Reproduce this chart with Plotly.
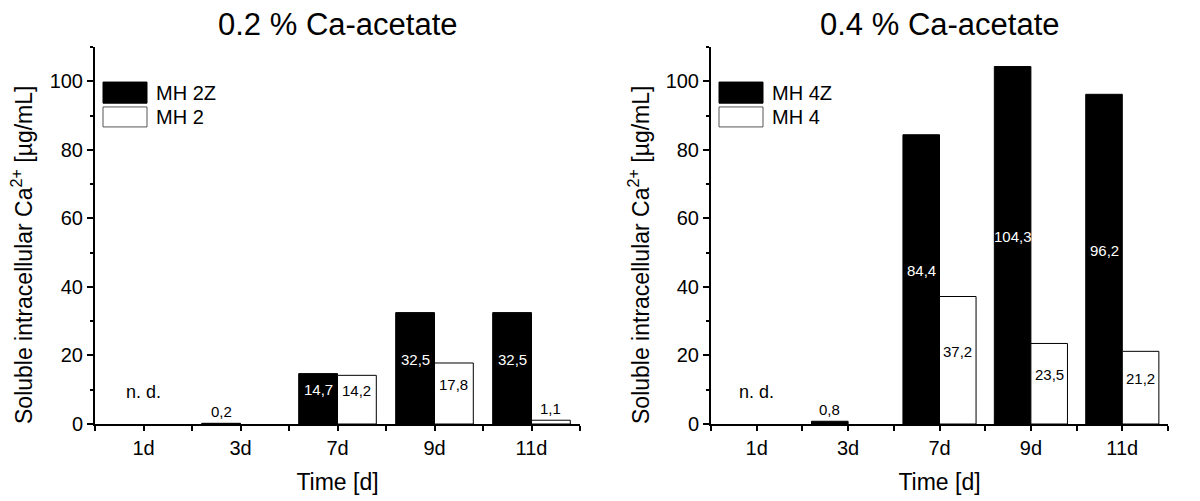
import plotly.graph_objects as go

# ---- data ----
days = ["1d", "3d", "7d", "9d", "11d"]

left_title = "0.2 % Ca-acetate"
left_names = ["MH 2Z", "MH 2"]
mh2z = [None, 0.2, 14.7, 32.5, 32.5]
mh2 = [None, None, 14.2, 17.8, 1.1]

right_title = "0.4 % Ca-acetate"
right_names = ["MH 4Z", "MH 4"]
mh4z = [None, 0.8, 84.4, 104.3, 96.2]
mh4 = [None, None, 37.2, 23.5, 21.2]

nd_label = "n. d."
y_title = "Soluble intracellular Ca<sup>2+</sup> [µg/mL]"
x_title = "Time [d]"

FONT = "Liberation Sans, Arial, sans-serif"
PAGE_OFF = 8          # default body margin of the html page
W, H = 1200 - PAGE_OFF, 501 - PAGE_OFF
BAR_W = 0.4  # each bar width in category units (bargap 0.2, 2 bars)


def px_x(x):
    return (x - PAGE_OFF) / W


def px_y(y):
    return (H - (y - PAGE_OFF)) / H


xpos = list(range(len(days)))

fig = go.Figure()

panels = [
    dict(xa="x", ya="y", title=left_title, names=left_names, series=[mh2z, mh2],
         dom=[px_x(95), px_x(580)], ytitle_x=px_x(22)),
    dict(xa="x2", ya="y2", title=right_title, names=right_names, series=[mh4z, mh4],
         dom=[px_x(711), px_x(1168)], ytitle_x=px_x(639)),
]
ydom = [px_y(424), px_y(47)]

styles = [
    dict(fill="black", line="black", textcolor="white"),
    dict(fill="white", line="black", textcolor="black"),
]

annotations = []
shapes = []

for p in panels:
    for s_idx, (name, vals) in enumerate(zip(p["names"], p["series"])):
        st = styles[s_idx]
        fig.add_trace(go.Bar(
            x=xpos, y=vals, name=name, xaxis=p["xa"], yaxis=p["ya"],
            marker=dict(color=st["fill"], line=dict(color=st["line"], width=1)),
            width=BAR_W, offset=(-BAR_W if s_idx == 0 else 0),
            showlegend=False,
        ))
        # value labels
        for i, v in enumerate(vals):
            if v is None:
                continue
            txt = f"{v:.1f}".replace(".", ",")
            bx = i - BAR_W / 2 if s_idx == 0 else i + BAR_W / 2
            if v >= 10:
                annotations.append(dict(
                    x=bx, y=v / 2, xref=p["xa"], yref=p["ya"], text=txt,
                    showarrow=False, yshift=9, xanchor="center",
                    font=dict(family=FONT, size=15, color=st["textcolor"])))
            else:
                annotations.append(dict(
                    x=bx, y=v, xref=p["xa"], yref=p["ya"], text=txt,
                    showarrow=False, yanchor="bottom", yshift=1, xanchor="center",
                    font=dict(family=FONT, size=15, color="black")))
    # n. d. label at first category
    annotations.append(dict(
        x=0, y=0, xref=p["xa"], yref=p["ya"], text=nd_label, showarrow=False,
        yshift=32, xanchor="center", font=dict(family=FONT, size=18, color="black")))
    # panel title
    annotations.append(dict(
        x=(p["dom"][0] + p["dom"][1]) / 2, y=px_y(25), xref="paper", yref="paper",
        text=p["title"], showarrow=False, xanchor="center", yanchor="middle",
        font=dict(family=FONT, size=31, color="black")))
    # y axis title
    annotations.append(dict(
        x=p["ytitle_x"], y=px_y(255), xref="paper", yref="paper",
        text=y_title, showarrow=False, xanchor="center", yanchor="middle", textangle=-90,
        font=dict(family=FONT, size=23, color="black")))
    # legend (keys drawn as boxes in axis-domain coordinates)
    xd = p["xa"] + " domain"
    yd = p["ya"] + " domain"
    span = (p["dom"][1] - p["dom"][0]) * W
    kx0 = 8 / span
    kx1 = 52 / span
    rows = [(0.907, 0.851), (0.841, 0.788)]
    for s_idx, name in enumerate(p["names"]):
        st = styles[s_idx]
        y1, y0 = rows[s_idx]
        shapes.append(dict(type="rect", xref=xd, yref=yd, x0=kx0, x1=kx1, y0=y0, y1=y1,
                           fillcolor=st["fill"], line=dict(color="#555555" if s_idx else "black", width=1)))
        annotations.append(dict(
            x=59 / span, y=(y0 + y1) / 2, xref=xd, yref=yd, text=name, showarrow=False,
            xanchor="left", yanchor="middle", font=dict(family=FONT, size=20, color="black")))

axis_common_x = dict(
    range=[-0.5, len(days) - 0.5], tickmode="array", tickvals=xpos, ticktext=days,
    ticks="outside", ticklen=5, tickwidth=1.5, tickcolor="black",
    showline=True, linecolor="black", linewidth=2, showgrid=False, zeroline=False,
    tickfont=dict(family=FONT, size=20, color="black"),
    minor=dict(tick0=-0.5, dtick=1, ticks="outside", ticklen=5, tickwidth=1.5, tickcolor="black"),
    title=dict(text=x_title, font=dict(family=FONT, size=23, color="black"), standoff=16),
    automargin=False, fixedrange=True,
)
axis_common_y = dict(
    range=[0, 110], tickmode="array", tickvals=[0, 20, 40, 60, 80, 100],
    ticks="outside", ticklen=6, tickwidth=1.5, tickcolor="black",
    showline=True, linecolor="black", linewidth=2, showgrid=False, zeroline=False,
    tickfont=dict(family=FONT, size=20, color="black"),
    minor=dict(tickvals=[10, 30, 50, 70, 90, 110], ticks="outside", ticklen=3, tickwidth=1.5, tickcolor="black"),
    automargin=False, fixedrange=True,
)

fig.update_layout(
    width=W, height=H,
    margin=dict(l=0, r=0, t=0, b=0),
    paper_bgcolor="white", plot_bgcolor="white",
    barmode="overlay",
    xaxis=dict(domain=panels[0]["dom"], anchor="y", **axis_common_x),
    yaxis=dict(domain=ydom, anchor="x", **axis_common_y),
    xaxis2=dict(domain=panels[1]["dom"], anchor="y2", **axis_common_x),
    yaxis2=dict(domain=ydom, anchor="x2", **axis_common_y),
    annotations=annotations,
    shapes=shapes,
    showlegend=False,
    font=dict(family=FONT, color="black"),
)

fig.write_html("out.html")
